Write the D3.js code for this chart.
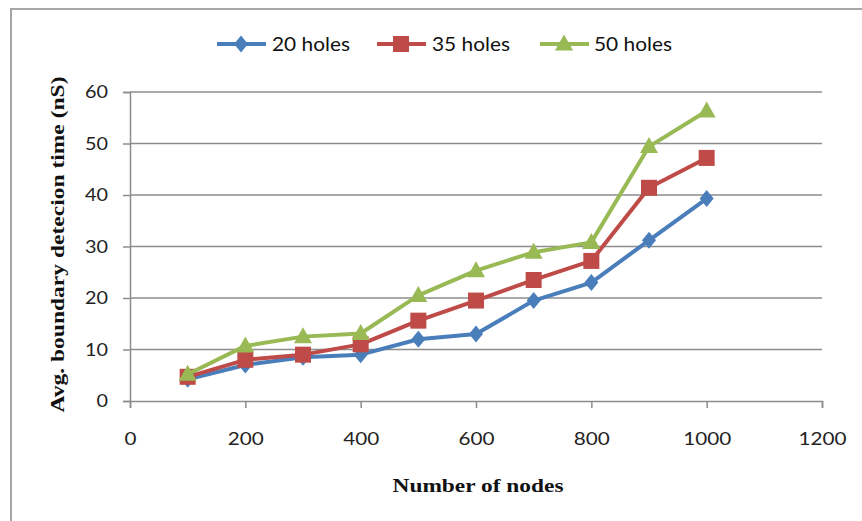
<!DOCTYPE html>
<html>
<head>
<meta charset="utf-8">
<script src="https://cdn.jsdelivr.net/npm/d3@7"></script>
<style>
  html, body { margin: 0; padding: 0; background: #fff; }
  svg { display: block; }
</style>
</head>
<body>
<svg id="chart" width="862" height="521"></svg>
<script>
// Number of nodes (x) and average detection time per hole count
const nodes = [100, 200, 300, 400, 500, 600, 700, 800, 900, 1000];
const holes20 = [4.2, 7.0, 8.5, 9.0, 12.0, 13.0, 19.5, 23.0, 31.2, 39.3];
const holes35 = [4.7, 8.0, 9.0, 11.0, 15.6, 19.5, 23.5, 27.2, 41.4, 47.2];
const holes50 = [5.2, 10.7, 12.5, 13.1, 20.5, 25.3, 28.9, 30.8, 49.4, 56.3];
const seriesNames = ["20 holes", "35 holes", "50 holes"];
const xTicks = [0, 200, 400, 600, 800, 1000, 1200];
const yTicks = [0, 10, 20, 30, 40, 50, 60];

const colors = ["#4a7ebb", "#be4b48", "#98b954"];

// Marker shapes: diamond, square, triangle (drawn around the origin)
const diamond = { draw(ctx) { ctx.moveTo(0, -8.5); ctx.lineTo(7, 0); ctx.lineTo(0, 8.5); ctx.lineTo(-7, 0); ctx.closePath(); } };
const square = { draw(ctx) { ctx.rect(-8, -8, 16, 16); } };
const triangle = { draw(ctx) { ctx.moveTo(0, -9.5); ctx.lineTo(9, 6.5); ctx.lineTo(-9, 6.5); ctx.closePath(); } };
const shapes = [diamond, square, triangle];

const series = [holes20, holes35, holes50].map((vals, i) => ({
  name: seriesNames[i],
  color: colors[i],
  shape: shapes[i],
  points: nodes.map((n, j) => ({ x: n, y: vals[j] }))
}));

const svg = d3.select("#chart");

// Chart frame
svg.append("rect")
  .attr("x", 11).attr("y", 9)
  .attr("width", 900).attr("height", 600)
  .attr("fill", "#fff")
  .attr("stroke", "#a6a6a6").attr("stroke-width", 2);

const plot = { left: 130, right: 822, top: 92, bottom: 401 };
const x = d3.scaleLinear().domain([0, 1200]).range([plot.left, plot.right]);
const y = d3.scaleLinear().domain([0, 60]).range([plot.bottom, plot.top]);

const tickFont = "Lato, 'Open Sans', sans-serif";
const titleFont = "'Liberation Serif', 'Times New Roman', serif";

// Horizontal gridlines
svg.append("g")
  .selectAll("line")
  .data(yTicks.filter(t => t > 0))
  .join("line")
  .attr("x1", plot.left).attr("x2", plot.right)
  .attr("y1", d => y(d)).attr("y2", d => y(d))
  .attr("stroke", "#8c8c8c").attr("stroke-width", 1.5);

// Y axis
const yAxis = svg.append("g")
  .attr("transform", `translate(${plot.left},0)`)
  .call(d3.axisLeft(y).tickValues(yTicks).tickFormat(d3.format("d")).tickSize(7).tickPadding(15));
yAxis.select(".domain").attr("stroke", "#8c8c8c").attr("stroke-width", 1.5);
yAxis.selectAll(".tick line").attr("stroke", "#8c8c8c").attr("stroke-width", 1.5);
yAxis.selectAll(".tick text")
  .attr("font-family", tickFont).attr("font-size", 18).attr("fill", "#222")
  .attr("textLength", d => String(d).length * 11.5)
  .attr("lengthAdjust", "spacingAndGlyphs");

// X axis
const xAxis = svg.append("g")
  .attr("transform", `translate(0,${plot.bottom})`)
  .call(d3.axisBottom(x).tickValues(xTicks).tickFormat(d3.format("d")).tickSize(7).tickPadding(24));
xAxis.select(".domain").attr("stroke", "#8c8c8c").attr("stroke-width", 1.5);
xAxis.selectAll(".tick line").attr("stroke", "#8c8c8c").attr("stroke-width", 1.5);
xAxis.selectAll(".tick text")
  .attr("font-family", tickFont).attr("font-size", 18).attr("fill", "#222")
  .attr("textLength", d => String(d).length * 12)
  .attr("lengthAdjust", "spacingAndGlyphs");

// Axis titles
svg.append("text")
  .attr("x", (plot.left + plot.right) / 2 + 2).attr("y", 492)
  .attr("text-anchor", "middle")
  .attr("font-family", titleFont)
  .attr("font-weight", "bold").attr("font-size", 19).attr("fill", "#111")
  .attr("textLength", 171).attr("lengthAdjust", "spacingAndGlyphs")
  .text("Number of nodes");

svg.append("text")
  .attr("transform", `translate(64,${(plot.top + plot.bottom) / 2 - 2}) rotate(-90)`)
  .attr("text-anchor", "middle")
  .attr("font-family", titleFont)
  .attr("font-weight", "bold").attr("font-size", 19).attr("fill", "#111")
  .attr("textLength", 336).attr("lengthAdjust", "spacingAndGlyphs")
  .text("Avg. boundary detecion time (nS)");

// Lines and markers
const line = d3.line().x(d => x(d.x)).y(d => y(d.y));

series.forEach(s => {
  const g = svg.append("g");
  g.append("path")
    .datum(s.points)
    .attr("d", line)
    .attr("fill", "none")
    .attr("stroke", s.color).attr("stroke-width", 4)
    .attr("stroke-linejoin", "round");
  g.selectAll("path.marker")
    .data(s.points)
    .join("path")
    .attr("class", "marker")
    .attr("transform", d => `translate(${x(d.x)},${y(d.y)})`)
    .attr("d", d3.symbol().type(s.shape))
    .attr("fill", s.color);
});

// Legend
const legendItems = [
  { x0: 217, tx: 272 },
  { x0: 377, tx: 432 },
  { x0: 540, tx: 594 }
];
const legendY = 44;
const legend = svg.append("g");
series.forEach((s, i) => {
  const li = legendItems[i];
  legend.append("line")
    .attr("x1", li.x0).attr("x2", li.x0 + 49)
    .attr("y1", legendY).attr("y2", legendY)
    .attr("stroke", s.color).attr("stroke-width", 4);
  legend.append("path")
    .attr("transform", `translate(${li.x0 + 24},${legendY})`)
    .attr("d", d3.symbol().type(s.shape))
    .attr("fill", s.color);
  legend.append("text")
    .attr("x", li.tx).attr("y", legendY + 7)
    .attr("font-family", tickFont).attr("font-size", 19).attr("fill", "#111")
    .attr("textLength", 78).attr("lengthAdjust", "spacingAndGlyphs")
    .text(s.name);
});
</script>
</body>
</html>
